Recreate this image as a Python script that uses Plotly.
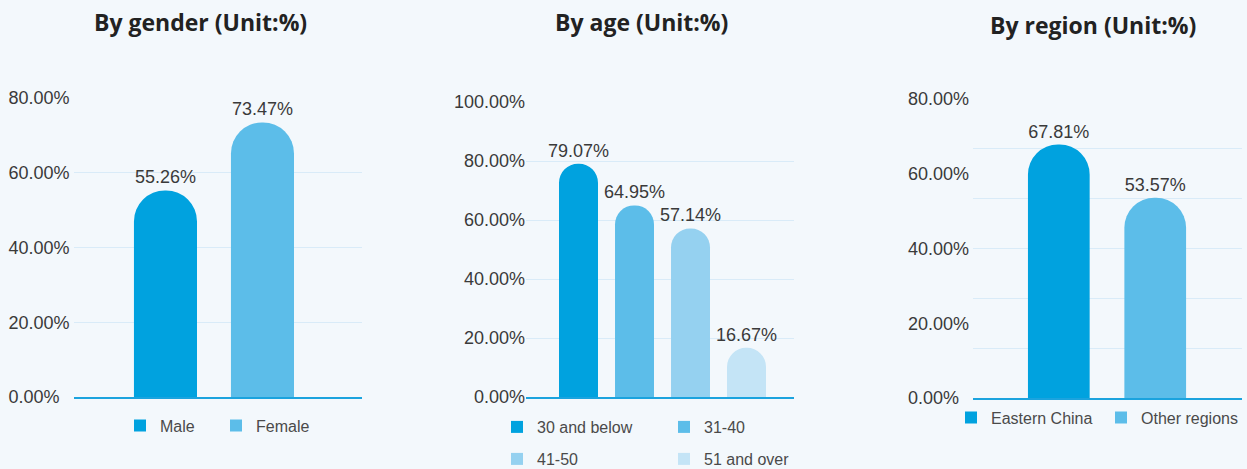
import plotly.graph_objects as go

W, H = 1247, 469

# ---------------- data ----------------
gender_categories = ["Male", "Female"]
gender_values = [55.26, 73.47]
gender_colors = ["#00A2DF", "#5CBDE9"]

age_categories = ["30 and below", "31-40", "41-50", "51 and over"]
age_values = [79.07, 64.95, 57.14, 16.67]
age_colors = ["#00A2DF", "#5CBDE9", "#95D1F0", "#C4E4F6"]

region_categories = ["Eastern China", "Other regions"]
region_values = [67.81, 53.57]
region_colors = ["#00A2DF", "#5CBDE9"]

titles = ["By gender (Unit:%)", "By age (Unit:%)", "By region (Unit:%)"]

gender_ticks = [0, 20, 40, 60, 80]
age_ticks = [0, 20, 40, 60, 80, 100]
region_ticks = [0, 20, 40, 60, 80]

# ---------------- style ----------------
BG = "#F3F8FC"
GRID = "#D9EBF8"
AXIS = "#1BA3DE"
TXT = "#3A3A3A"
LEG = "#4A4A4A"
TICKFONT = dict(family="Liberation Sans, Arial, sans-serif", size=18, color=TXT)
LEGFONT = dict(family="Liberation Sans, Arial, sans-serif", size=16, color=LEG)
TITLEFONT = dict(family="Open Sans, sans-serif", size=23, color="#222222")


def px(x):
    return x / W


def py(y):
    return (H - y) / H


def pct(vals):
    return [f"{v:.2f}%" for v in vals]


fig = go.Figure()

panels = [
    dict(cats=gender_categories, vals=gender_values, cols=gender_colors,
         xa="x", ya="y", width=0.65,
         legpos=[(134, 425.5), (230, 425.5)]),
    dict(cats=age_categories, vals=age_values, cols=age_colors,
         xa="x2", ya="y2", width=0.696,
         legpos=[(511, 427), (678, 427), (511, 459), (678, 459)]),
    dict(cats=region_categories, vals=region_values, cols=region_colors,
         xa="x3", ya="y3", width=0.64,
         legpos=[(965, 417.5), (1115, 417.5)]),
]

leg_n = 0
legends = {}
for p in panels:
    for cat, val, col, (lx, ly) in zip(p["cats"], p["vals"], p["cols"], p["legpos"]):
        leg_n += 1
        lname = "legend" if leg_n == 1 else f"legend{leg_n}"
        fig.add_trace(go.Bar(
            x=[cat], y=[val], name=cat,
            marker=dict(color=col, cornerradius="50%", line=dict(width=0)),
            width=p["width"],
            texttemplate="%{y:.2f}%", textposition="outside",
            textfont=TICKFONT, cliponaxis=False, constraintext="none",
            xaxis=p["xa"], yaxis=p["ya"], showlegend=False,
            hoverinfo="skip",
        ))
        # legend swatch (square, no rounding)
        fig.add_trace(go.Bar(
            x=[cat], y=[None], name=cat,
            marker=dict(color=col, line=dict(width=0)),
            xaxis=p["xa"], yaxis=p["ya"], legend=lname, showlegend=True,
            hoverinfo="skip",
        ))
        legends[lname] = dict(
            x=px(lx - 14), y=py(ly), xanchor="left", yanchor="middle",
            orientation="h", font=LEGFONT, bgcolor="rgba(0,0,0,0)",
            borderwidth=0, itemclick=False, itemdoubleclick=False,
        )

common_x = dict(showticklabels=False, showgrid=False, zeroline=False,
                showline=True, linecolor=AXIS, linewidth=2, ticks="",
                fixedrange=True)

layout = dict(
    width=W, height=H, autosize=False,
    margin=dict(l=0, r=0, t=0, b=0, autoexpand=False),
    paper_bgcolor=BG, plot_bgcolor=BG,
    barmode="overlay", showlegend=True,
    xaxis=dict(domain=[px(74), px(362)], range=[-0.943, 2.026], anchor="y", **common_x),
    yaxis=dict(domain=[py(397), py(98)], range=[0, 80], anchor="free",
               position=px(7.5), side="right",
               tickvals=gender_ticks, ticktext=pct(gender_ticks),
               showgrid=True, gridcolor=GRID, gridwidth=1, zeroline=False,
               showline=False, ticks="", tickfont=TICKFONT, fixedrange=True),
    xaxis2=dict(domain=[px(526), px(794)], range=[-0.9375, 3.848], anchor="y2", **common_x),
    yaxis2=dict(domain=[py(397), py(102)], range=[0, 100], anchor="x2",
                tickvals=age_ticks, ticktext=pct(age_ticks),
                showgrid=True, gridcolor=GRID, gridwidth=1, zeroline=False,
                showline=False, ticks="", tickfont=TICKFONT, fixedrange=True),
    xaxis3=dict(domain=[px(973), px(1242)], range=[-0.89, 1.9], anchor="y3", **common_x),
    yaxis3=dict(domain=[py(398), py(99)], range=[0, 80], anchor="free",
                position=px(907), side="right",
                tickvals=region_ticks, ticktext=pct(region_ticks),
                showgrid=False, zeroline=False, showline=False, ticks="",
                tickfont=TICKFONT, fixedrange=True,
                minor=dict(tickvals=[80 * i / 6 for i in range(1, 7)],
                           showgrid=True, gridcolor=GRID, gridwidth=1, ticks="")),
    annotations=[
        dict(text=f"<b>{titles[0]}</b>", x=px(200.5), y=py(22), xref="paper", yref="paper",
             xanchor="center", yanchor="middle", showarrow=False, font=TITLEFONT),
        dict(text=f"<b>{titles[1]}</b>", x=px(641), y=py(22), xref="paper", yref="paper",
             xanchor="center", yanchor="middle", showarrow=False, font=TITLEFONT),
        dict(text=f"<b>{titles[2]}</b>", x=px(1093), y=py(25), xref="paper", yref="paper",
             xanchor="center", yanchor="middle", showarrow=False, font=TITLEFONT),
    ],
)
layout.update(legends)
fig.update_layout(**layout)

fig.write_html("out.html", config={"displayModeBar": False})
